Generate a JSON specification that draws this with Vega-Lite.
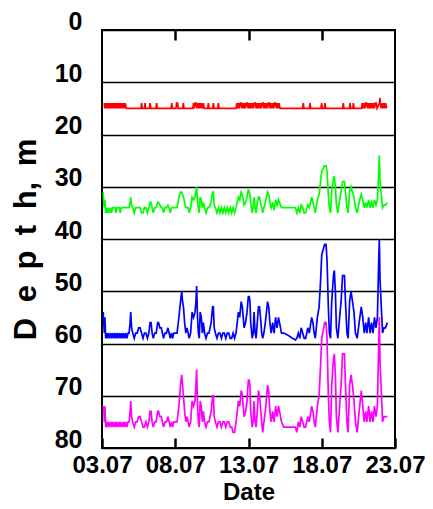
{
"$schema":"https://vega.github.io/schema/vega-lite/v6.json",
"width":293,"height":418,
"autosize":{"type":"none"},
"padding":{"left":102,"top":30,"right":38,"bottom":61},
"background":"white",
"config":{"view":{"stroke":"black","strokeWidth":2},"font":"Liberation Sans"},
"data":{"values":[
{"s":"r","t":3.14,"d":14},{"s":"r","t":3.2,"d":15},{"s":"r","t":3.26,"d":14},{"s":"r","t":3.32,"d":15},{"s":"r","t":3.38,"d":14},{"s":"r","t":3.44,"d":15},{"s":"r","t":3.5,"d":14},{"s":"r","t":3.56,"d":15},{"s":"r","t":3.62,"d":14},{"s":"r","t":3.68,"d":15},{"s":"r","t":3.74,"d":14},{"s":"r","t":3.8,"d":15},{"s":"r","t":3.86,"d":14},{"s":"r","t":3.92,"d":15},{"s":"r","t":3.98,"d":14},{"s":"r","t":4.04,"d":15},{"s":"r","t":4.1,"d":14},{"s":"r","t":4.16,"d":15},{"s":"r","t":4.22,"d":14},{"s":"r","t":4.28,"d":15},{"s":"r","t":4.34,"d":14},{"s":"r","t":4.4,"d":15},{"s":"r","t":4.46,"d":14},{"s":"r","t":4.52,"d":15},{"s":"r","t":4.58,"d":14},{"s":"r","t":4.66,"d":15},
{"s":"r","t":5.66,"d":15},{"s":"r","t":5.7,"d":14},{"s":"r","t":5.75,"d":15},{"s":"r","t":5.9,"d":15},{"s":"r","t":5.94,"d":14},{"s":"r","t":5.98,"d":15},{"s":"r","t":6.24,"d":15},{"s":"r","t":6.28,"d":14},{"s":"r","t":6.33,"d":15},{"s":"r","t":6.69,"d":15},{"s":"r","t":6.73,"d":14},{"s":"r","t":6.78,"d":15},{"s":"r","t":7.72,"d":15},{"s":"r","t":7.76,"d":14},{"s":"r","t":7.81,"d":15},{"s":"r","t":8.05,"d":15},{"s":"r","t":8.09,"d":14},{"s":"r","t":8.16,"d":14},{"s":"r","t":8.2,"d":15},{"s":"r","t":8.51,"d":15},{"s":"r","t":8.55,"d":14},{"s":"r","t":8.6,"d":15},
{"s":"r","t":9.2,"d":15},{"s":"r","t":9.25,"d":14},{"s":"r","t":9.3,"d":15},{"s":"r","t":9.36,"d":14},{"s":"r","t":9.42,"d":14},{"s":"r","t":9.48,"d":15},{"s":"r","t":9.54,"d":14},{"s":"r","t":9.6,"d":15},{"s":"r","t":9.66,"d":14},{"s":"r","t":9.72,"d":15},{"s":"r","t":9.78,"d":14},{"s":"r","t":9.85,"d":15},{"s":"r","t":9.92,"d":14},{"s":"r","t":9.97,"d":15},
{"s":"r","t":10.22,"d":15},{"s":"r","t":10.26,"d":14},{"s":"r","t":10.31,"d":15},{"s":"r","t":10.56,"d":15},{"s":"r","t":10.6,"d":14},{"s":"r","t":10.65,"d":15},{"s":"r","t":10.9,"d":15},{"s":"r","t":10.94,"d":14},{"s":"r","t":10.99,"d":15},
{"s":"r","t":12.15,"d":15},{"s":"r","t":12.2,"d":14},{"s":"r","t":12.26,"d":15},{"s":"r","t":12.32,"d":14},{"s":"r","t":12.38,"d":15},{"s":"r","t":12.44,"d":14},{"s":"r","t":12.5,"d":14},{"s":"r","t":12.56,"d":15},{"s":"r","t":12.62,"d":14},{"s":"r","t":12.68,"d":15},{"s":"r","t":12.74,"d":14},{"s":"r","t":12.8,"d":15},{"s":"r","t":12.86,"d":14},{"s":"r","t":12.92,"d":14},{"s":"r","t":12.98,"d":15},{"s":"r","t":13.04,"d":14},{"s":"r","t":13.1,"d":15},{"s":"r","t":13.16,"d":14},{"s":"r","t":13.22,"d":15},{"s":"r","t":13.28,"d":14},{"s":"r","t":13.34,"d":15},{"s":"r","t":13.4,"d":14},{"s":"r","t":13.46,"d":14},{"s":"r","t":13.52,"d":15},{"s":"r","t":13.58,"d":14},{"s":"r","t":13.64,"d":15},{"s":"r","t":13.7,"d":14},{"s":"r","t":13.76,"d":15},{"s":"r","t":13.82,"d":14},{"s":"r","t":13.88,"d":15},{"s":"r","t":13.94,"d":14},{"s":"r","t":14,"d":14},{"s":"r","t":14.06,"d":15},{"s":"r","t":14.12,"d":14},{"s":"r","t":14.18,"d":15},{"s":"r","t":14.24,"d":14},{"s":"r","t":14.3,"d":15},{"s":"r","t":14.36,"d":14},{"s":"r","t":14.42,"d":14},{"s":"r","t":14.48,"d":15},{"s":"r","t":14.54,"d":14},{"s":"r","t":14.6,"d":15},{"s":"r","t":14.66,"d":14},{"s":"r","t":14.72,"d":15},{"s":"r","t":14.78,"d":14},{"s":"r","t":14.84,"d":14},{"s":"r","t":14.9,"d":15},{"s":"r","t":14.96,"d":14},{"s":"r","t":15.02,"d":15},{"s":"r","t":15.08,"d":14},{"s":"r","t":15.15,"d":15},
{"s":"r","t":16.7,"d":15},{"s":"r","t":16.74,"d":14},{"s":"r","t":16.79,"d":15},{"s":"r","t":17.16,"d":15},{"s":"r","t":17.2,"d":14},{"s":"r","t":17.25,"d":15},{"s":"r","t":17.95,"d":15},{"s":"r","t":17.99,"d":14},{"s":"r","t":18.04,"d":15},{"s":"r","t":18.18,"d":15},{"s":"r","t":18.22,"d":14},{"s":"r","t":18.27,"d":15},
{"s":"r","t":19.43,"d":15},{"s":"r","t":19.47,"d":14},{"s":"r","t":19.52,"d":15},{"s":"r","t":19.89,"d":15},{"s":"r","t":19.93,"d":14},{"s":"r","t":19.98,"d":15},{"s":"r","t":20.12,"d":15},{"s":"r","t":20.16,"d":14},{"s":"r","t":20.21,"d":15},
{"s":"r","t":20.72,"d":15},{"s":"r","t":20.76,"d":14},{"s":"r","t":20.82,"d":15},{"s":"r","t":20.88,"d":14},{"s":"r","t":20.94,"d":15},{"s":"r","t":21,"d":14},{"s":"r","t":21.06,"d":14},{"s":"r","t":21.12,"d":15},{"s":"r","t":21.18,"d":14},{"s":"r","t":21.24,"d":15},{"s":"r","t":21.3,"d":14},{"s":"r","t":21.36,"d":15},{"s":"r","t":21.42,"d":14},{"s":"r","t":21.48,"d":15},{"s":"r","t":21.54,"d":14},{"s":"r","t":21.6,"d":15},{"s":"r","t":21.66,"d":14},{"s":"r","t":21.72,"d":14},{"s":"r","t":21.78,"d":15},{"s":"r","t":21.86,"d":14.5},{"s":"r","t":21.94,"d":14},{"s":"r","t":21.97,"d":13},{"s":"r","t":22,"d":14},{"s":"r","t":22.06,"d":15},{"s":"r","t":22.12,"d":14},{"s":"r","t":22.18,"d":15},{"s":"r","t":22.24,"d":14},{"s":"r","t":22.3,"d":15},{"s":"r","t":22.36,"d":14},{"s":"r","t":22.43,"d":15},

{"s":"b","t":3.08,"d":54},{"s":"b","t":3.12,"d":56},{"s":"b","t":3.16,"d":58},{"s":"b","t":3.2,"d":55},{"s":"b","t":3.25,"d":59},{"s":"b","t":3.3,"d":58},{"s":"b","t":3.35,"d":59},{"s":"b","t":3.42,"d":58},{"s":"b","t":3.5,"d":59},{"s":"b","t":3.58,"d":58},{"s":"b","t":3.65,"d":59},{"s":"b","t":3.72,"d":58},{"s":"b","t":3.8,"d":59},{"s":"b","t":3.88,"d":58},{"s":"b","t":3.95,"d":59},{"s":"b","t":4.02,"d":58},{"s":"b","t":4.1,"d":59},{"s":"b","t":4.18,"d":58},{"s":"b","t":4.25,"d":59},{"s":"b","t":4.32,"d":58},{"s":"b","t":4.4,"d":59},{"s":"b","t":4.48,"d":58},{"s":"b","t":4.55,"d":59},{"s":"b","t":4.62,"d":58},{"s":"b","t":4.7,"d":59},{"s":"b","t":4.78,"d":58},{"s":"b","t":4.85,"d":58},{"s":"b","t":4.92,"d":56},{"s":"b","t":4.96,"d":54},{"s":"b","t":5.02,"d":57},{"s":"b","t":5.1,"d":58},{"s":"b","t":5.2,"d":59},{"s":"b","t":5.3,"d":58},{"s":"b","t":5.4,"d":58},{"s":"b","t":5.5,"d":57},{"s":"b","t":5.6,"d":57},{"s":"b","t":5.7,"d":58},{"s":"b","t":5.8,"d":59},{"s":"b","t":5.9,"d":58},{"s":"b","t":6,"d":58},{"s":"b","t":6.1,"d":59},{"s":"b","t":6.2,"d":58},{"s":"b","t":6.28,"d":56},{"s":"b","t":6.35,"d":56},{"s":"b","t":6.42,"d":58},{"s":"b","t":6.5,"d":59},{"s":"b","t":6.6,"d":58},{"s":"b","t":6.7,"d":58},{"s":"b","t":6.8,"d":56},{"s":"b","t":6.86,"d":56},{"s":"b","t":6.95,"d":57},{"s":"b","t":7.05,"d":57},{"s":"b","t":7.12,"d":58},{"s":"b","t":7.2,"d":59},{"s":"b","t":7.3,"d":58},{"s":"b","t":7.4,"d":58},{"s":"b","t":7.5,"d":57},{"s":"b","t":7.58,"d":58},{"s":"b","t":7.66,"d":59},{"s":"b","t":7.75,"d":58},{"s":"b","t":7.82,"d":59},{"s":"b","t":7.9,"d":58},{"s":"b","t":8,"d":58},{"s":"b","t":8.12,"d":58},{"s":"b","t":8.25,"d":55},{"s":"b","t":8.36,"d":52},{"s":"b","t":8.44,"d":50},{"s":"b","t":8.5,"d":52},{"s":"b","t":8.56,"d":53},{"s":"b","t":8.64,"d":56},{"s":"b","t":8.72,"d":58},{"s":"b","t":8.8,"d":57},{"s":"b","t":8.88,"d":58},{"s":"b","t":8.95,"d":59},{"s":"b","t":9.05,"d":58},{"s":"b","t":9.15,"d":54},{"s":"b","t":9.25,"d":55},{"s":"b","t":9.35,"d":54},{"s":"b","t":9.41,"d":52},{"s":"b","t":9.46,"d":49},{"s":"b","t":9.52,"d":55},{"s":"b","t":9.58,"d":58},{"s":"b","t":9.64,"d":59},{"s":"b","t":9.7,"d":54},{"s":"b","t":9.78,"d":55},{"s":"b","t":9.85,"d":58},{"s":"b","t":9.92,"d":56},{"s":"b","t":10,"d":58},{"s":"b","t":10.1,"d":59},{"s":"b","t":10.2,"d":58},{"s":"b","t":10.3,"d":58},{"s":"b","t":10.45,"d":56},{"s":"b","t":10.55,"d":53},{"s":"b","t":10.6,"d":53},{"s":"b","t":10.66,"d":57},{"s":"b","t":10.74,"d":58},{"s":"b","t":10.85,"d":59},{"s":"b","t":10.95,"d":58},{"s":"b","t":11.05,"d":58},{"s":"b","t":11.15,"d":59},{"s":"b","t":11.25,"d":58},{"s":"b","t":11.35,"d":58},{"s":"b","t":11.45,"d":59},{"s":"b","t":11.55,"d":58},{"s":"b","t":11.65,"d":58},{"s":"b","t":11.75,"d":59},{"s":"b","t":11.85,"d":59},{"s":"b","t":11.95,"d":58},{"s":"b","t":12.05,"d":59},{"s":"b","t":12.15,"d":58},{"s":"b","t":12.31,"d":54},{"s":"b","t":12.4,"d":55},{"s":"b","t":12.5,"d":52},{"s":"b","t":12.58,"d":53},{"s":"b","t":12.7,"d":57},{"s":"b","t":12.8,"d":56},{"s":"b","t":12.9,"d":54},{"s":"b","t":12.99,"d":51},{"s":"b","t":13.05,"d":51},{"s":"b","t":13.1,"d":52},{"s":"b","t":13.15,"d":56},{"s":"b","t":13.25,"d":59},{"s":"b","t":13.32,"d":58},{"s":"b","t":13.38,"d":54},{"s":"b","t":13.45,"d":58},{"s":"b","t":13.52,"d":59},{"s":"b","t":13.6,"d":56},{"s":"b","t":13.68,"d":53},{"s":"b","t":13.75,"d":53},{"s":"b","t":13.82,"d":55},{"s":"b","t":13.9,"d":58},{"s":"b","t":13.97,"d":59},{"s":"b","t":14.05,"d":58},{"s":"b","t":14.15,"d":56},{"s":"b","t":14.3,"d":52},{"s":"b","t":14.38,"d":53},{"s":"b","t":14.46,"d":56},{"s":"b","t":14.55,"d":58},{"s":"b","t":14.65,"d":56},{"s":"b","t":14.75,"d":58},{"s":"b","t":14.85,"d":55},{"s":"b","t":14.95,"d":57},{"s":"b","t":15.05,"d":55},{"s":"b","t":15.12,"d":56},{"s":"b","t":15.25,"d":58},{"s":"b","t":15.4,"d":58},{"s":"b","t":15.6,"d":58.3},{"s":"b","t":15.8,"d":58.6},{"s":"b","t":16,"d":59},{"s":"b","t":16.2,"d":59.3},{"s":"b","t":16.3,"d":59},{"s":"b","t":16.4,"d":58},{"s":"b","t":16.5,"d":59},{"s":"b","t":16.6,"d":57},{"s":"b","t":16.7,"d":58},{"s":"b","t":16.8,"d":59},{"s":"b","t":16.9,"d":59},{"s":"b","t":17.05,"d":57},{"s":"b","t":17.15,"d":58},{"s":"b","t":17.31,"d":55},{"s":"b","t":17.4,"d":56},{"s":"b","t":17.48,"d":58},{"s":"b","t":17.56,"d":59},{"s":"b","t":17.7,"d":55},{"s":"b","t":17.82,"d":53},{"s":"b","t":17.92,"d":48},{"s":"b","t":18,"d":43},{"s":"b","t":18.1,"d":42},{"s":"b","t":18.2,"d":41},{"s":"b","t":18.29,"d":41},{"s":"b","t":18.36,"d":44},{"s":"b","t":18.45,"d":53},{"s":"b","t":18.52,"d":58},{"s":"b","t":18.6,"d":59},{"s":"b","t":18.68,"d":52},{"s":"b","t":18.8,"d":47},{"s":"b","t":18.86,"d":46},{"s":"b","t":18.93,"d":50},{"s":"b","t":19,"d":57},{"s":"b","t":19.1,"d":59},{"s":"b","t":19.22,"d":55},{"s":"b","t":19.32,"d":52},{"s":"b","t":19.42,"d":47},{"s":"b","t":19.55,"d":47},{"s":"b","t":19.62,"d":52},{"s":"b","t":19.72,"d":58},{"s":"b","t":19.8,"d":59},{"s":"b","t":19.9,"d":52},{"s":"b","t":20,"d":50},{"s":"b","t":20.1,"d":52},{"s":"b","t":20.2,"d":54},{"s":"b","t":20.3,"d":58},{"s":"b","t":20.42,"d":59},{"s":"b","t":20.55,"d":56},{"s":"b","t":20.7,"d":53},{"s":"b","t":20.8,"d":55},{"s":"b","t":20.9,"d":58},{"s":"b","t":21,"d":56},{"s":"b","t":21.08,"d":58},{"s":"b","t":21.2,"d":55},{"s":"b","t":21.3,"d":58},{"s":"b","t":21.4,"d":56},{"s":"b","t":21.5,"d":58},{"s":"b","t":21.6,"d":55},{"s":"b","t":21.7,"d":57},{"s":"b","t":21.8,"d":55},{"s":"b","t":21.88,"d":45},{"s":"b","t":21.93,"d":40},{"s":"b","t":21.98,"d":48},{"s":"b","t":22.05,"d":52},{"s":"b","t":22.15,"d":58},{"s":"b","t":22.25,"d":57},{"s":"b","t":22.35,"d":57},{"s":"b","t":22.48,"d":56},

{"s":"g","t":3.08,"d":31},{"s":"g","t":3.12,"d":33},{"s":"g","t":3.16,"d":34},{"s":"g","t":3.2,"d":32.5},{"s":"g","t":3.25,"d":35},{"s":"g","t":3.3,"d":34},{"s":"g","t":3.35,"d":35},{"s":"g","t":3.42,"d":34},{"s":"g","t":3.5,"d":35},{"s":"g","t":3.58,"d":34},{"s":"g","t":3.65,"d":35},{"s":"g","t":3.72,"d":34},{"s":"g","t":3.8,"d":34},{"s":"g","t":3.88,"d":34},{"s":"g","t":3.95,"d":35},{"s":"g","t":4.02,"d":34},{"s":"g","t":4.1,"d":34},{"s":"g","t":4.18,"d":34},{"s":"g","t":4.25,"d":35},{"s":"g","t":4.32,"d":34},{"s":"g","t":4.4,"d":34},{"s":"g","t":4.48,"d":34},{"s":"g","t":4.55,"d":34},{"s":"g","t":4.62,"d":34},{"s":"g","t":4.7,"d":34},{"s":"g","t":4.78,"d":34},{"s":"g","t":4.85,"d":34},{"s":"g","t":4.92,"d":33},{"s":"g","t":4.96,"d":32},{"s":"g","t":5.02,"d":33.5},{"s":"g","t":5.1,"d":34},{"s":"g","t":5.2,"d":35},{"s":"g","t":5.3,"d":34},{"s":"g","t":5.4,"d":34},{"s":"g","t":5.5,"d":34},{"s":"g","t":5.6,"d":34},{"s":"g","t":5.7,"d":35},{"s":"g","t":5.8,"d":35},{"s":"g","t":5.9,"d":34},{"s":"g","t":6,"d":34},{"s":"g","t":6.1,"d":35},{"s":"g","t":6.2,"d":34},{"s":"g","t":6.28,"d":33},{"s":"g","t":6.35,"d":33},{"s":"g","t":6.42,"d":34},{"s":"g","t":6.5,"d":35},{"s":"g","t":6.6,"d":34},{"s":"g","t":6.7,"d":34},{"s":"g","t":6.8,"d":33},{"s":"g","t":6.86,"d":33},{"s":"g","t":6.95,"d":33.5},{"s":"g","t":7.05,"d":34},{"s":"g","t":7.12,"d":34},{"s":"g","t":7.2,"d":35},{"s":"g","t":7.3,"d":34},{"s":"g","t":7.4,"d":34},{"s":"g","t":7.5,"d":33.5},{"s":"g","t":7.58,"d":34},{"s":"g","t":7.66,"d":35},{"s":"g","t":7.75,"d":34},{"s":"g","t":7.82,"d":34},{"s":"g","t":7.9,"d":34},{"s":"g","t":8,"d":34},{"s":"g","t":8.12,"d":34},{"s":"g","t":8.25,"d":32},{"s":"g","t":8.36,"d":31},{"s":"g","t":8.44,"d":31},{"s":"g","t":8.5,"d":31.5},{"s":"g","t":8.56,"d":32},{"s":"g","t":8.64,"d":33},{"s":"g","t":8.72,"d":34},{"s":"g","t":8.8,"d":34},{"s":"g","t":8.88,"d":34},{"s":"g","t":8.95,"d":35},{"s":"g","t":9.05,"d":34},{"s":"g","t":9.15,"d":32},{"s":"g","t":9.25,"d":32.5},{"s":"g","t":9.35,"d":32},{"s":"g","t":9.41,"d":31},{"s":"g","t":9.46,"d":30},{"s":"g","t":9.52,"d":33},{"s":"g","t":9.58,"d":34},{"s":"g","t":9.64,"d":35},{"s":"g","t":9.7,"d":32},{"s":"g","t":9.78,"d":32.5},{"s":"g","t":9.85,"d":34},{"s":"g","t":9.92,"d":33},{"s":"g","t":10,"d":34},{"s":"g","t":10.1,"d":35},{"s":"g","t":10.2,"d":34},{"s":"g","t":10.3,"d":34},{"s":"g","t":10.45,"d":33},{"s":"g","t":10.55,"d":31},{"s":"g","t":10.6,"d":31},{"s":"g","t":10.66,"d":33.5},{"s":"g","t":10.74,"d":34},{"s":"g","t":10.85,"d":35},{"s":"g","t":10.95,"d":34},{"s":"g","t":11.05,"d":35},{"s":"g","t":11.15,"d":34},{"s":"g","t":11.25,"d":35},{"s":"g","t":11.35,"d":34},{"s":"g","t":11.45,"d":35},{"s":"g","t":11.55,"d":34},{"s":"g","t":11.65,"d":35},{"s":"g","t":11.75,"d":34},{"s":"g","t":11.85,"d":35},{"s":"g","t":11.95,"d":34},{"s":"g","t":12.05,"d":35},{"s":"g","t":12.15,"d":34},{"s":"g","t":12.31,"d":32},{"s":"g","t":12.4,"d":32.5},{"s":"g","t":12.5,"d":31},{"s":"g","t":12.58,"d":31.5},{"s":"g","t":12.7,"d":33.5},{"s":"g","t":12.8,"d":33},{"s":"g","t":12.9,"d":32},{"s":"g","t":12.99,"d":30.5},{"s":"g","t":13.05,"d":31},{"s":"g","t":13.1,"d":31.5},{"s":"g","t":13.15,"d":33},{"s":"g","t":13.25,"d":35},{"s":"g","t":13.32,"d":34},{"s":"g","t":13.38,"d":32},{"s":"g","t":13.45,"d":34},{"s":"g","t":13.52,"d":35},{"s":"g","t":13.6,"d":33},{"s":"g","t":13.68,"d":32},{"s":"g","t":13.75,"d":32},{"s":"g","t":13.82,"d":33},{"s":"g","t":13.9,"d":34},{"s":"g","t":13.97,"d":35},{"s":"g","t":14.05,"d":34},{"s":"g","t":14.15,"d":33},{"s":"g","t":14.3,"d":31},{"s":"g","t":14.38,"d":31.5},{"s":"g","t":14.46,"d":33},{"s":"g","t":14.55,"d":34},{"s":"g","t":14.65,"d":33},{"s":"g","t":14.75,"d":34.5},{"s":"g","t":14.85,"d":32.5},{"s":"g","t":14.95,"d":33.5},{"s":"g","t":15.05,"d":32.5},{"s":"g","t":15.12,"d":33},{"s":"g","t":15.25,"d":34},{"s":"g","t":15.4,"d":34},{"s":"g","t":15.6,"d":34},{"s":"g","t":15.8,"d":34},{"s":"g","t":16,"d":34},{"s":"g","t":16.2,"d":34},{"s":"g","t":16.3,"d":35},{"s":"g","t":16.4,"d":34},{"s":"g","t":16.5,"d":35},{"s":"g","t":16.6,"d":33.5},{"s":"g","t":16.7,"d":34},{"s":"g","t":16.8,"d":35},{"s":"g","t":16.9,"d":35},{"s":"g","t":17.05,"d":33.5},{"s":"g","t":17.15,"d":34},{"s":"g","t":17.31,"d":32},{"s":"g","t":17.4,"d":33},{"s":"g","t":17.48,"d":34},{"s":"g","t":17.56,"d":35},{"s":"g","t":17.7,"d":32.5},{"s":"g","t":17.82,"d":31.5},{"s":"g","t":17.92,"d":29},{"s":"g","t":18,"d":27},{"s":"g","t":18.1,"d":26.5},{"s":"g","t":18.2,"d":26},{"s":"g","t":18.29,"d":26},{"s":"g","t":18.36,"d":27},{"s":"g","t":18.45,"d":31.5},{"s":"g","t":18.52,"d":34},{"s":"g","t":18.6,"d":35},{"s":"g","t":18.68,"d":31},{"s":"g","t":18.8,"d":28.5},{"s":"g","t":18.86,"d":28},{"s":"g","t":18.93,"d":30},{"s":"g","t":19,"d":33.5},{"s":"g","t":19.1,"d":35},{"s":"g","t":19.22,"d":32.5},{"s":"g","t":19.32,"d":31},{"s":"g","t":19.42,"d":29},{"s":"g","t":19.55,"d":29},{"s":"g","t":19.62,"d":31},{"s":"g","t":19.72,"d":34},{"s":"g","t":19.8,"d":35},{"s":"g","t":19.9,"d":31},{"s":"g","t":20,"d":30},{"s":"g","t":20.1,"d":31},{"s":"g","t":20.2,"d":32},{"s":"g","t":20.3,"d":34},{"s":"g","t":20.42,"d":35},{"s":"g","t":20.55,"d":33},{"s":"g","t":20.7,"d":31.5},{"s":"g","t":20.8,"d":32.5},{"s":"g","t":20.9,"d":34},{"s":"g","t":21,"d":33},{"s":"g","t":21.08,"d":34},{"s":"g","t":21.2,"d":32.5},{"s":"g","t":21.3,"d":34},{"s":"g","t":21.4,"d":33},{"s":"g","t":21.5,"d":34},{"s":"g","t":21.6,"d":32.5},{"s":"g","t":21.7,"d":33.5},{"s":"g","t":21.8,"d":32.5},{"s":"g","t":21.88,"d":28},{"s":"g","t":21.93,"d":24},{"s":"g","t":21.98,"d":29},{"s":"g","t":22.05,"d":31},{"s":"g","t":22.15,"d":34},{"s":"g","t":22.25,"d":33.5},{"s":"g","t":22.35,"d":33.5},{"s":"g","t":22.48,"d":33},

{"s":"m","t":3.08,"d":72},{"s":"m","t":3.12,"d":72.5},{"s":"m","t":3.16,"d":75},{"s":"m","t":3.2,"d":72},{"s":"m","t":3.25,"d":76},{"s":"m","t":3.3,"d":75},{"s":"m","t":3.35,"d":76},{"s":"m","t":3.42,"d":75},{"s":"m","t":3.5,"d":76},{"s":"m","t":3.58,"d":75},{"s":"m","t":3.65,"d":76},{"s":"m","t":3.72,"d":75},{"s":"m","t":3.8,"d":76},{"s":"m","t":3.88,"d":75},{"s":"m","t":3.95,"d":76},{"s":"m","t":4.02,"d":75},{"s":"m","t":4.1,"d":76},{"s":"m","t":4.18,"d":75},{"s":"m","t":4.25,"d":76},{"s":"m","t":4.32,"d":75},{"s":"m","t":4.4,"d":76},{"s":"m","t":4.48,"d":75},{"s":"m","t":4.55,"d":76},{"s":"m","t":4.62,"d":75},{"s":"m","t":4.7,"d":76},{"s":"m","t":4.78,"d":75},{"s":"m","t":4.85,"d":75},{"s":"m","t":4.92,"d":73},{"s":"m","t":4.96,"d":71},{"s":"m","t":5.02,"d":74},{"s":"m","t":5.1,"d":75},{"s":"m","t":5.2,"d":76},{"s":"m","t":5.3,"d":75},{"s":"m","t":5.4,"d":75},{"s":"m","t":5.5,"d":74},{"s":"m","t":5.6,"d":74},{"s":"m","t":5.7,"d":75},{"s":"m","t":5.8,"d":76},{"s":"m","t":5.9,"d":76},{"s":"m","t":6,"d":75},{"s":"m","t":6.1,"d":76},{"s":"m","t":6.2,"d":75},{"s":"m","t":6.28,"d":73},{"s":"m","t":6.35,"d":73},{"s":"m","t":6.42,"d":75},{"s":"m","t":6.5,"d":76},{"s":"m","t":6.6,"d":75},{"s":"m","t":6.7,"d":75},{"s":"m","t":6.8,"d":73},{"s":"m","t":6.86,"d":73},{"s":"m","t":6.95,"d":74},{"s":"m","t":7.05,"d":74},{"s":"m","t":7.12,"d":75},{"s":"m","t":7.2,"d":76},{"s":"m","t":7.3,"d":75},{"s":"m","t":7.4,"d":75},{"s":"m","t":7.5,"d":74},{"s":"m","t":7.58,"d":75},{"s":"m","t":7.66,"d":76},{"s":"m","t":7.75,"d":75},{"s":"m","t":7.82,"d":76},{"s":"m","t":7.9,"d":75},{"s":"m","t":8,"d":75},{"s":"m","t":8.12,"d":75},{"s":"m","t":8.25,"d":72},{"s":"m","t":8.36,"d":68},{"s":"m","t":8.44,"d":66},{"s":"m","t":8.5,"d":68},{"s":"m","t":8.56,"d":70},{"s":"m","t":8.64,"d":73},{"s":"m","t":8.72,"d":75},{"s":"m","t":8.8,"d":74},{"s":"m","t":8.88,"d":75},{"s":"m","t":8.95,"d":76},{"s":"m","t":9.05,"d":75},{"s":"m","t":9.15,"d":71},{"s":"m","t":9.25,"d":72},{"s":"m","t":9.35,"d":71},{"s":"m","t":9.41,"d":68},{"s":"m","t":9.46,"d":65},{"s":"m","t":9.52,"d":72},{"s":"m","t":9.58,"d":75},{"s":"m","t":9.64,"d":76},{"s":"m","t":9.7,"d":71},{"s":"m","t":9.78,"d":72},{"s":"m","t":9.85,"d":75},{"s":"m","t":9.92,"d":73},{"s":"m","t":10,"d":75},{"s":"m","t":10.1,"d":76},{"s":"m","t":10.2,"d":75},{"s":"m","t":10.3,"d":75},{"s":"m","t":10.45,"d":73},{"s":"m","t":10.55,"d":70},{"s":"m","t":10.6,"d":70},{"s":"m","t":10.66,"d":74},{"s":"m","t":10.74,"d":75},{"s":"m","t":10.85,"d":76},{"s":"m","t":10.95,"d":75},{"s":"m","t":11.05,"d":75},{"s":"m","t":11.15,"d":76},{"s":"m","t":11.25,"d":75},{"s":"m","t":11.35,"d":75},{"s":"m","t":11.45,"d":76},{"s":"m","t":11.55,"d":75},{"s":"m","t":11.65,"d":75},{"s":"m","t":11.75,"d":76},{"s":"m","t":11.85,"d":76},{"s":"m","t":11.95,"d":77},{"s":"m","t":12.05,"d":77},{"s":"m","t":12.15,"d":75},{"s":"m","t":12.31,"d":71},{"s":"m","t":12.4,"d":72},{"s":"m","t":12.5,"d":69},{"s":"m","t":12.58,"d":70},{"s":"m","t":12.7,"d":74},{"s":"m","t":12.8,"d":73},{"s":"m","t":12.9,"d":71},{"s":"m","t":12.99,"d":67},{"s":"m","t":13.05,"d":67},{"s":"m","t":13.1,"d":68},{"s":"m","t":13.15,"d":73},{"s":"m","t":13.25,"d":76},{"s":"m","t":13.32,"d":75},{"s":"m","t":13.38,"d":71},{"s":"m","t":13.45,"d":75},{"s":"m","t":13.52,"d":76},{"s":"m","t":13.6,"d":73},{"s":"m","t":13.68,"d":69},{"s":"m","t":13.75,"d":70},{"s":"m","t":13.82,"d":72},{"s":"m","t":13.9,"d":75},{"s":"m","t":13.97,"d":77},{"s":"m","t":14.05,"d":75},{"s":"m","t":14.15,"d":73},{"s":"m","t":14.3,"d":68},{"s":"m","t":14.38,"d":69},{"s":"m","t":14.46,"d":73},{"s":"m","t":14.55,"d":75},{"s":"m","t":14.65,"d":73},{"s":"m","t":14.75,"d":75},{"s":"m","t":14.85,"d":72},{"s":"m","t":14.95,"d":74},{"s":"m","t":15.05,"d":72},{"s":"m","t":15.12,"d":73},{"s":"m","t":15.25,"d":75},{"s":"m","t":15.4,"d":76},{"s":"m","t":15.6,"d":76},{"s":"m","t":15.8,"d":76},{"s":"m","t":16,"d":76},{"s":"m","t":16.2,"d":76},{"s":"m","t":16.3,"d":77},{"s":"m","t":16.4,"d":75},{"s":"m","t":16.5,"d":76},{"s":"m","t":16.6,"d":74},{"s":"m","t":16.7,"d":75},{"s":"m","t":16.8,"d":76},{"s":"m","t":16.9,"d":76},{"s":"m","t":17.05,"d":74},{"s":"m","t":17.15,"d":75},{"s":"m","t":17.31,"d":72},{"s":"m","t":17.4,"d":73},{"s":"m","t":17.48,"d":75},{"s":"m","t":17.56,"d":76},{"s":"m","t":17.7,"d":72},{"s":"m","t":17.82,"d":70},{"s":"m","t":17.92,"d":64},{"s":"m","t":18,"d":59},{"s":"m","t":18.1,"d":57.5},{"s":"m","t":18.2,"d":56},{"s":"m","t":18.29,"d":56},{"s":"m","t":18.36,"d":59},{"s":"m","t":18.45,"d":70},{"s":"m","t":18.52,"d":75},{"s":"m","t":18.6,"d":77},{"s":"m","t":18.68,"d":68},{"s":"m","t":18.8,"d":63},{"s":"m","t":18.86,"d":62},{"s":"m","t":18.93,"d":66},{"s":"m","t":19,"d":74},{"s":"m","t":19.1,"d":77},{"s":"m","t":19.22,"d":72},{"s":"m","t":19.32,"d":68},{"s":"m","t":19.42,"d":62},{"s":"m","t":19.55,"d":62},{"s":"m","t":19.62,"d":68},{"s":"m","t":19.72,"d":75},{"s":"m","t":19.8,"d":77},{"s":"m","t":19.9,"d":68},{"s":"m","t":20,"d":66},{"s":"m","t":20.1,"d":68},{"s":"m","t":20.2,"d":71},{"s":"m","t":20.3,"d":75},{"s":"m","t":20.42,"d":77},{"s":"m","t":20.55,"d":73},{"s":"m","t":20.7,"d":69},{"s":"m","t":20.8,"d":72},{"s":"m","t":20.9,"d":75},{"s":"m","t":21,"d":73},{"s":"m","t":21.08,"d":75},{"s":"m","t":21.2,"d":72},{"s":"m","t":21.3,"d":75},{"s":"m","t":21.4,"d":73},{"s":"m","t":21.5,"d":75},{"s":"m","t":21.6,"d":72},{"s":"m","t":21.7,"d":74},{"s":"m","t":21.8,"d":72},{"s":"m","t":21.88,"d":61},{"s":"m","t":21.93,"d":55},{"s":"m","t":21.98,"d":64},{"s":"m","t":22.05,"d":68},{"s":"m","t":22.15,"d":75},{"s":"m","t":22.25,"d":74},{"s":"m","t":22.35,"d":74},{"s":"m","t":22.48,"d":74}
]},
"layer":[
{"mark":{"type":"line","strokeWidth":1.7,"clip":true},
"encoding":{
"x":{"field":"t","type":"quantitative","scale":{"domain":[3,23],"nice":false,"zero":false},
"axis":{"values":[3,8,13,18,23],"labelExpr":"(datum.value<10?'0':'')+datum.value+'.07'","title":"Date","grid":false,"domain":false,"tickSize":-10,"tickWidth":2.5,"tickColor":"black","labelPadding":15,"labelFontSize":24,"labelFontWeight":"bold","labelColor":"black","labelFlush":false,"titleFontSize":24,"titleFontWeight":"bold","titleColor":"black","titlePadding":3}},
"y":{"field":"d","type":"quantitative","scale":{"domain":[0,80],"reverse":true,"nice":false,"zero":false},
"axis":{"values":[0,10,20,30,40,50,60,70,80],"title":"D\u2002e\u2002p\u2002t\u2002h,\u2002m","grid":true,"gridColor":"black","gridWidth":1.3,"gridOpacity":1,"ticks":false,"domain":false,"labelPadding":20,"labelFontSize":25,"labelFontWeight":"bold","labelColor":"black","labelOffset":-9,"titleFontSize":31,"titleFontWeight":"bold","titleColor":"black","titlePadding":12}},
"color":{"field":"s","type":"nominal","scale":{"domain":["r","g","b","m"],"range":["#ff0000","#00ff00","#0000ff","#ff00ff"]},"legend":null}
}},
{"mark":{"type":"point","opacity":0},
"encoding":{"x":{"field":"t","type":"quantitative","axis":{"orient":"top","labels":false,"title":null,"grid":false,"domain":false,"tickSize":-10,"tickWidth":2.5,"tickColor":"black","values":[8,13,18]}},"y":{"field":"d","type":"quantitative"}}}
],
"resolve":{"axis":{"x":"independent"}}
}
